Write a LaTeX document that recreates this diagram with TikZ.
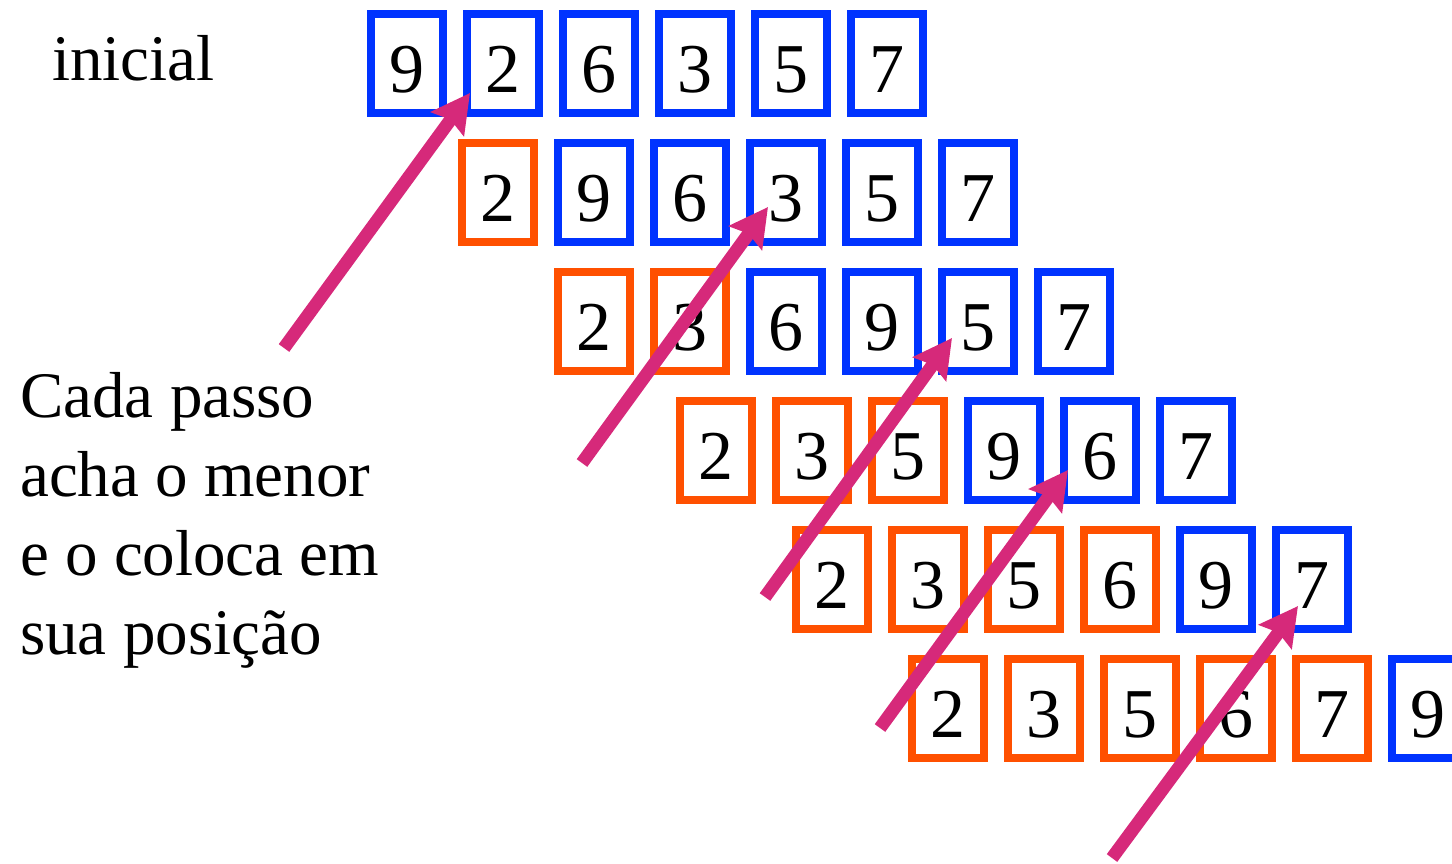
\documentclass[tikz,border=0pt]{standalone}
\usepackage{fontspec}
\setmainfont{Liberation Serif}
\usetikzlibrary{arrows.meta}
\definecolor{bblue}{RGB}{0,51,255}
\definecolor{borange}{RGB}{255,80,0}
\definecolor{amag}{RGB}{214,41,122}
\tikzset{
  cell/.style={draw, line width=8pt, minimum width=72pt, minimum height=99pt,
    inner sep=0pt, font=\fontsize{70}{80}\selectfont, text height=57pt, text depth=0pt},
  bcell/.style={cell, draw=bblue},
  ocell/.style={cell, draw=borange},
  ptr/.style={draw=amag, line width=13pt, -{Stealth[length=38pt,width=40pt,inset=5pt]}},
  txt/.style={font=\fontsize{65}{79}\selectfont, align=left, inner sep=0pt}
}
\begin{document}
\begin{tikzpicture}[x=1pt,y=-1pt]
\useasboundingbox (0,0) rectangle (1452,863);
\clip (0,0) rectangle (1452,863);
\node[txt, anchor=base west] (ini) at (52,80) {inicial};
\node[txt, anchor=north west] (expl) at (20,372) {Cada passo\\acha o menor\\e o coloca em\\sua posição};
\foreach \r/\x/\y/\o/\d in {
  1/367/63.5/0/{9,2,6,3,5,7},
  2/458/192.5/1/{2,9,6,3,5,7},
  3/554/321.5/2/{2,3,6,9,5,7},
  4/676/450.5/3/{2,3,5,9,6,7},
  5/792/579.5/4/{2,3,5,6,9,7},
  6/908/708.5/5/{2,3,5,6,7,9}}{
  \foreach \v [count=\i] in \d {
    \ifnum\i>\o \def\st{bcell}\else\def\st{ocell}\fi
    \node[\st] (c\r-\i) at ({\x+40+96*(\i-1)},\y) {\v};
  }
}
\coordinate (t1) at (284,348);  \coordinate (h1) at (470,93);
\coordinate (t2) at (582,463);  \coordinate (h2) at (768,207);
\coordinate (t3) at (765,597);  \coordinate (h3) at (952,338);
\coordinate (t4) at (880,728);  \coordinate (h4) at (1068,470);
\coordinate (t5) at (1112,858); \coordinate (h5) at (1298,606);
\foreach \k in {1,...,5}{\draw[ptr] (t\k) -- (h\k);}
\end{tikzpicture}
\end{document}
